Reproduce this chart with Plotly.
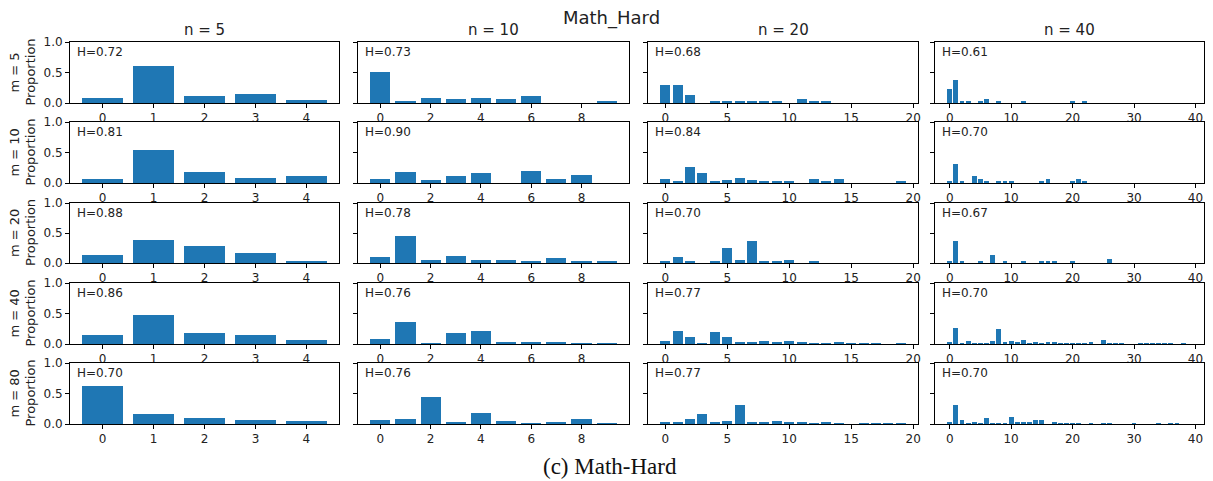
import plotly.graph_objects as go

W, H = 1213, 481

n_values = [5, 10, 20, 40]
m_values = [5, 10, 20, 40, 80]

entropy = [
    ["H=0.72", "H=0.73", "H=0.68", "H=0.61"],
    ["H=0.81", "H=0.90", "H=0.84", "H=0.70"],
    ["H=0.88", "H=0.78", "H=0.70", "H=0.67"],
    ["H=0.86", "H=0.76", "H=0.77", "H=0.70"],
    ["H=0.70", "H=0.76", "H=0.77", "H=0.70"],
]

# n = 5
n5_m5 = [0.075, 0.61, 0.12, 0.145, 0.045]
n5_m10 = [0.07, 0.54, 0.18, 0.09, 0.11]
n5_m20 = [0.14, 0.38, 0.29, 0.16, 0.03]
n5_m40 = [0.14, 0.48, 0.18, 0.14, 0.07]
n5_m80 = [0.63, 0.17, 0.10, 0.07, 0.043]

# n = 10
n10_m5 = [0.51, 0.03, 0.08, 0.065, 0.09, 0.065, 0.11, 0, 0, 0.03]
n10_m10 = [0.06, 0.18, 0.045, 0.12, 0.16, 0, 0.19, 0.07, 0.135, 0]
n10_m20 = [0.105, 0.455, 0.055, 0.12, 0.045, 0.045, 0.035, 0.08, 0.02, 0.02]
n10_m40 = [0.08, 0.36, 0.01, 0.18, 0.22, 0.04, 0.04, 0.04, 0.015, 0.015]
n10_m80 = [0.065, 0.08, 0.44, 0.04, 0.18, 0.055, 0.015, 0.025, 0.08, 0.015]

# n = 20
n20_m5 = [0.29, 0.29, 0.13, 0, 0.025, 0.025, 0.04, 0.025, 0.04, 0.025,
          0, 0.065, 0.04, 0.025, 0, 0, 0, 0, 0, 0]
n20_m10 = [0.07, 0.035, 0.26, 0.17, 0.02, 0.05, 0.09, 0.05, 0.025, 0.025,
           0.025, 0, 0.06, 0.025, 0.06, 0, 0, 0, 0, 0.025]
n20_m20 = [0.035, 0.095, 0.02, 0, 0.035, 0.25, 0.055, 0.37, 0.025, 0.025,
           0.055, 0, 0.025, 0, 0, 0, 0, 0, 0, 0]
n20_m40 = [0.045, 0.22, 0.11, 0.01, 0.2, 0.11, 0.04, 0.025, 0.05, 0.04,
           0.05, 0.025, 0.01, 0.01, 0.02, 0.01, 0.01, 0.01, 0, 0.01]
n20_m80 = [0.025, 0.035, 0.075, 0.17, 0.035, 0.05, 0.31, 0.025, 0.035, 0.05,
           0.025, 0.025, 0.01, 0.035, 0.01, 0, 0.01, 0.01, 0.01, 0.01]

# n = 40
n40_m5 = [0.23, 0.38, 0.035, 0.02, 0, 0.02, 0.07, 0, 0.02, 0,
          0, 0, 0.02, 0, 0, 0, 0, 0, 0, 0,
          0.02, 0, 0.02, 0, 0, 0, 0, 0, 0, 0,
          0, 0, 0, 0, 0, 0, 0, 0, 0, 0]
n40_m10 = [0.04, 0.31, 0.04, 0, 0.11, 0.06, 0.02, 0, 0.02, 0.02,
           0.02, 0, 0, 0, 0, 0.02, 0.06, 0, 0, 0,
           0.02, 0.07, 0.02, 0, 0, 0, 0, 0, 0, 0,
           0, 0, 0, 0, 0, 0, 0, 0, 0, 0]
n40_m20 = [0.035, 0.37, 0.025, 0, 0, 0.025, 0, 0.14, 0, 0.04,
           0, 0, 0.025, 0, 0, 0.025, 0.035, 0.035, 0, 0,
           0.035, 0, 0, 0, 0, 0, 0.065, 0, 0, 0,
           0, 0, 0, 0, 0, 0, 0, 0, 0, 0]
n40_m40 = [0.03, 0.265, 0.015, 0.045, 0.015, 0.015, 0.015, 0.045, 0.24, 0.03,
           0.045, 0.03, 0.06, 0.015, 0.03, 0.015, 0.03, 0.03, 0.015, 0.015,
           0.015, 0.015, 0.015, 0.03, 0, 0.06, 0.015, 0.015, 0.015, 0,
           0, 0.015, 0.015, 0.015, 0.015, 0.015, 0.015, 0, 0.015, 0]
n40_m80 = [0.03, 0.31, 0.06, 0.015, 0.03, 0.015, 0.095, 0.015, 0.015, 0.015,
           0.12, 0.03, 0.03, 0.03, 0.07, 0.06, 0, 0.03, 0.015, 0.015,
           0.015, 0.015, 0, 0.015, 0, 0.015, 0.015, 0, 0, 0,
           0.015, 0, 0, 0, 0.015, 0, 0.015, 0.015, 0, 0]

grid = [
    [n5_m5, n10_m5, n20_m5, n40_m5],
    [n5_m10, n10_m10, n20_m10, n40_m10],
    [n5_m20, n10_m20, n20_m20, n40_m20],
    [n5_m40, n10_m40, n20_m40, n40_m40],
    [n5_m80, n10_m80, n20_m80, n40_m80],
]

x_tick_vals = [
    [0, 1, 2, 3, 4],
    [0, 2, 4, 6, 8],
    [0, 5, 10, 15, 20],
    [0, 10, 20, 30, 40],
]

col_px = [(70, 339), (358, 629), (648, 918), (935, 1204)]
row_px = [(42, 103), (122, 183), (203, 263), (283, 344), (363, 424)]

BLUE = "#1f77b4"
FONT = "DejaVu Sans"

fig = go.Figure()
layout = {}
annotations = []

for r in range(5):
    for c in range(4):
        idx = r * 4 + c + 1
        xa = "x" if idx == 1 else f"x{idx}"
        ya = "y" if idx == 1 else f"y{idx}"
        vals = grid[r][c]
        n = len(vals)
        cats = list(range(n))
        fig.add_trace(go.Bar(
            x=cats, y=vals, width=0.8, marker=dict(color=BLUE, line=dict(width=0)),
            xaxis=xa, yaxis=ya, showlegend=False, hoverinfo="x+y",
        ))
        lo = -0.4 - 0.05 * (n - 1 + 0.8)
        hi = n - 1 + 0.4 + 0.05 * (n - 1 + 0.8)
        x0, x1 = col_px[c]
        y0, y1 = row_px[r]
        layout["xaxis" if idx == 1 else f"xaxis{idx}"] = dict(
            domain=[x0 / W, x1 / W], anchor=ya, range=[lo, hi],
            tickvals=x_tick_vals[c], ticktext=[str(v) for v in x_tick_vals[c]],
            ticks="outside", ticklen=4, tickwidth=1, tickcolor="black",
            showline=True, mirror=True, linecolor="black", linewidth=1,
            showgrid=False, zeroline=False, automargin=False,
            tickfont=dict(family=FONT, size=12, color="#222"),
        )
        layout["yaxis" if idx == 1 else f"yaxis{idx}"] = dict(
            domain=[1 - y1 / H, 1 - y0 / H], anchor=xa, range=[0, 1.0],
            tickvals=[0, 0.5, 1.0], ticktext=["0.0", "0.5", "1.0"],
            showticklabels=(c == 0),
            ticks="outside", ticklen=4, tickwidth=1, tickcolor="black",
            showline=True, mirror=True, linecolor="black", linewidth=1,
            showgrid=False, zeroline=False, automargin=False,
            tickfont=dict(family=FONT, size=12, color="#222"),
        )
        annotations.append(dict(
            text=entropy[r][c], xref=f"{xa} domain", yref=f"{ya} domain",
            x=0.018, y=0.98, xanchor="left", yanchor="top", showarrow=False,
            font=dict(family=FONT, size=12, color="#222"),
        ))

# row labels
for r in range(5):
    y0, y1 = row_px[r]
    yc = 1 - (y0 + y1) / 2 / H
    annotations.append(dict(
        text=f"m = {m_values[r]}", xref="paper", yref="paper",
        x=14 / W, y=yc, xanchor="center", yanchor="middle", textangle=-90,
        showarrow=False, font=dict(family=FONT, size=13, color="#222"),
    ))
    annotations.append(dict(
        text="Proportion", xref="paper", yref="paper",
        x=30 / W, y=yc, xanchor="center", yanchor="middle", textangle=-90,
        showarrow=False, font=dict(family=FONT, size=13, color="#222"),
    ))

# column titles
for c in range(4):
    x0, x1 = col_px[c]
    annotations.append(dict(
        text=f"n = {n_values[c]}", xref="paper", yref="paper",
        x=(x0 + x1) / 2 / W, y=1 - 30 / H, xanchor="center", yanchor="middle",
        showarrow=False, font=dict(family=FONT, size=15, color="#222"),
    ))

annotations.append(dict(
    text="Math_Hard", xref="paper", yref="paper", x=611 / W, y=1 - 18 / H,
    xanchor="center", yanchor="middle", showarrow=False,
    font=dict(family=FONT, size=18, color="#222"),
))
annotations.append(dict(
    text="(c) Math-Hard", xref="paper", yref="paper", x=610 / W, y=1 - 466 / H,
    xanchor="center", yanchor="middle", showarrow=False,
    font=dict(family="Liberation Serif", size=23, color="#111"),
))

fig.update_layout(
    width=W, height=H, margin=dict(l=0, r=0, t=0, b=0, pad=0, autoexpand=False),
    paper_bgcolor="white", plot_bgcolor="white",
    annotations=annotations, bargap=0, **layout,
)

fig.write_html(
    "out.html",
    config={"displayModeBar": False},
    post_script="document.body.style.margin='0';document.body.style.overflow='hidden';",
)
